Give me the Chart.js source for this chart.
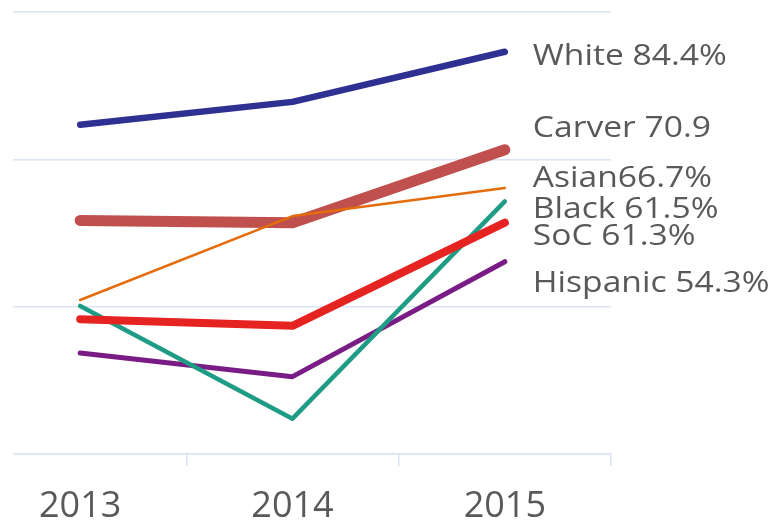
<!DOCTYPE html>
<html>
<head>
<meta charset="utf-8">
<script src="https://cdn.jsdelivr.net/npm/chart.js@4"></script>
<style>
  html, body { margin: 0; padding: 0; background: #ffffff; }
  body { width: 775px; height: 520px; position: relative; overflow: hidden; }
  #wrap { position: absolute; left: 13px; top: 0; width: 762px; height: 520px; overflow: hidden; }
  #chart { position: absolute; left: -39px; top: 0; }
</style>
</head>
<body>
<div id="wrap"><canvas id="chart" width="801" height="520"></canvas></div>
<script>
/* ---------- data ---------- */
var years = ["2013", "2014", "2015"];
var groups = ["White", "Asian", "Carver", "SoC", "Black", "Hispanic"];
var white = [74.7, 77.8, 84.6];
var asian = [50.9, 62.3, 66.1];
var carver = [61.7, 61.4, 71.3];
var soc = [48.3, 47.4, 61.4];
var black = [50.1, 34.8, 64.3];
var hispanic = [43.7, 40.5, 56.1];
var endLabels = ["White 84.4%", "Asian66.7%", "Carver 70.9", "SoC 61.3%", "Black 61.5%", "Hispanic 54.3%"];
var yTicks = [30, 50, 70, 90];

/* ---------- styling ---------- */
var colors = ["#2E3192", "#E46C0A", "#C0504D", "#E52421", "#1F9C85", "#7A1C85"];
var widths = [6.5, 2.5, 11, 8, 4.5, 5];
var labelBaselines = [65, 187, 137, 245, 218, 292];
var GRID = "#dae4f4";
var TEXT = "#595959";

var series = [white, asian, carver, soc, black, hispanic];

var datasets = groups.map(function (g, i) {
  return {
    label: g,
    data: series[i],
    borderColor: colors[i],
    backgroundColor: colors[i],
    borderWidth: widths[i],
    borderCapStyle: "round",
    borderJoinStyle: "round",
    pointRadius: 0,
    tension: 0,
    fill: false
  };
});

/* labels at the right end of each line */
var endLabelPlugin = {
  id: "endLabels",
  afterDraw: function (chart) {
    var ctx = chart.ctx;
    ctx.save();
    ctx.font = "30px 'Open Sans'";
    ctx.fillStyle = TEXT;
    ctx.textBaseline = "alphabetic";
    ctx.textAlign = "left";
    chart.data.datasets.forEach(function (ds, i) {
      var meta = chart.getDatasetMeta(i);
      var last = meta.data[meta.data.length - 1];
      var x = last.x + 28;
      ctx.save();
      ctx.translate(x, labelBaselines[i]);
      ctx.scale(1.12, 1);
      ctx.fillText(endLabels[i], 0, 0);
      ctx.restore();
    });
    ctx.restore();
  }
};

new Chart(document.getElementById("chart"), {
  type: "line",
  data: { labels: years, datasets: datasets },
  plugins: [endLabelPlugin],
  options: {
    responsive: false,
    animation: false,
    layout: { padding: { left: 0, right: 164, top: 12, bottom: 0 } },
    plugins: { legend: { display: false }, tooltip: { enabled: false } },
    scales: {
      x: {
        type: "category",
        offset: true,
        afterFit: function (axis) { axis.height = 66; },
        grid: {
          offset: true,
          drawOnChartArea: false,
          drawTicks: true,
          tickLength: 12,
          color: GRID,
          lineWidth: 1.5
        },
        border: { display: true, color: GRID, width: 1.5 },
        ticks: {
          color: TEXT,
          padding: 19,
          font: { family: "'Open Sans'", size: 36 }
        }
      },
      y: {
        min: 30,
        max: 90,
        afterBuildTicks: function (axis) {
          axis.ticks = yTicks.map(function (v) { return { value: v }; });
        },
        grid: { color: GRID, lineWidth: 1.5, drawTicks: false },
        border: { display: false },
        ticks: { display: false }
      }
    }
  }
});
</script>
</body>
</html>
